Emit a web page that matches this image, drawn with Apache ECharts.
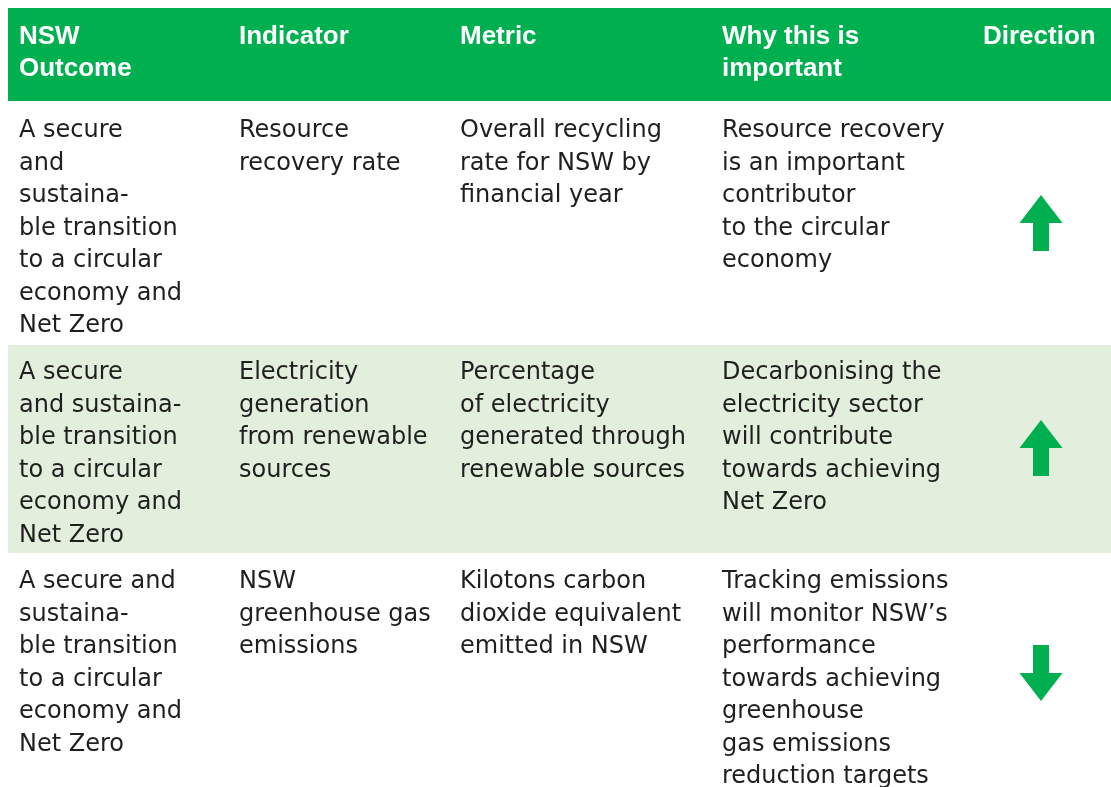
<!DOCTYPE html>
<html>
<head>
    <meta charset="utf-8">
    <title>NSW Outcome indicators</title>
    <script src="https://cdn.jsdelivr.net/npm/echarts@6/dist/echarts.min.js"></script>
    <style>
        html, body { margin: 0; padding: 0; background: #fff; }
        #main { width: 1111px; height: 787px; }
    </style>
</head>
<body>
    <div id="main"></div>
    <script>
        // table content
        var headers = ['NSW\nOutcome', 'Indicator', 'Metric', 'Why this is\nimportant', 'Direction'];
        var outcomes = [
            'A secure\nand\nsustaina-\nble transition\nto a circular\neconomy and\nNet Zero',
            'A secure\nand sustaina-\nble transition\nto a circular\neconomy and\nNet Zero',
            'A secure and\nsustaina-\nble transition\nto a circular\neconomy and\nNet Zero'
        ];
        var indicators = [
            'Resource\nrecovery rate',
            'Electricity\ngeneration\nfrom renewable\nsources',
            'NSW\ngreenhouse gas\nemissions'
        ];
        var metrics = [
            'Overall recycling\nrate for NSW by\nfinancial year',
            'Percentage\nof electricity\ngenerated through\nrenewable sources',
            'Kilotons carbon\ndioxide equivalent\nemitted in NSW'
        ];
        var reasons = [
            'Resource recovery\nis an important\ncontributor\nto the circular\neconomy',
            'Decarbonising the\nelectricity sector\nwill contribute\ntowards achieving\nNet Zero',
            'Tracking emissions\nwill monitor NSW\u2019s\nperformance\ntowards achieving\ngreenhouse\ngas emissions\nreduction targets'
        ];
        var directions = ['up', 'up', 'down'];

        // layout (pixel space of the hidden axes)
        var colX = [19, 239, 460, 722, 983];
        var rowTop = [8, 101, 345, 553];
        var rowBottom = [101, 345, 553, 795];
        var textTop = [21, 115, 357, 566];
        var arrowX = 1041;
        var green = '#00b050';
        var rowFill = ['#00b050', '#ffffff', '#e2efdc', '#ffffff'];
        var bodyFont = '24px "DejaVu Sans", Verdana, sans-serif';
        var headFont = 'bold 26px "Liberation Sans", Arial, sans-serif';

        var rows = [headers];
        for (var i = 0; i < outcomes.length; i++) {
            rows.push([outcomes[i], indicators[i], metrics[i], reasons[i], directions[i]]);
        }

        function arrowPoints(api, cx, cy, dir) {
            // tip, head base and shaft measured from the arrow centre
            var s = dir === 'up' ? 1 : -1;
            var pts = [
                [0, -28], [21.5, 0], [8, 0], [8, 28], [-8, 28], [-8, 0], [-21.5, 0]
            ];
            return pts.map(function (p) {
                return api.coord([cx + p[0], cy + s * p[1]]);
            });
        }

        function renderRow(params, api) {
            var r = api.value(0);
            var cells = rows[r];
            var header = r === 0;
            var tl = api.coord([8, rowTop[r]]);
            var br = api.coord([1111, rowBottom[r]]);
            var children = [{
                type: 'rect',
                shape: { x: tl[0], y: tl[1], width: br[0] - tl[0], height: br[1] - tl[1] },
                style: { fill: rowFill[r] }
            }];
            var n = header ? 5 : 4;
            for (var c = 0; c < n; c++) {
                var p = api.coord([colX[c], textTop[r]]);
                children.push({
                    type: 'text',
                    x: p[0], y: p[1],
                    style: {
                        text: cells[c],
                        fill: header ? '#ffffff' : '#1f1f1f',
                        font: header ? headFont : bodyFont,
                        lineHeight: header ? 32 : 32.5,
                        verticalAlign: 'top',
                        align: 'left'
                    }
                });
            }
            if (!header) {
                var cy = (rowTop[r] + rowBottom[r]) / 2 + (r === 1 ? 0 : -1);
                children.push({
                    type: 'polygon',
                    shape: { points: arrowPoints(api, arrowX, cy, cells[4]) },
                    style: { fill: green }
                });
            }
            return { type: 'group', children: children };
        }

        var myChart = echarts.init(document.getElementById('main'));
        var option = {
            animation: false,
            grid: { left: 0, right: 0, top: 0, bottom: 0 },
            xAxis: { type: 'value', min: 0, max: 1111, show: false },
            yAxis: { type: 'value', min: 0, max: 787, inverse: true, show: false },
            series: [{
                type: 'custom',
                renderItem: renderRow,
                clip: true,
                data: rows.map(function (row, i) { return [i]; })
            }]
        };
        myChart.setOption(option);
    </script>
</body>
</html>
